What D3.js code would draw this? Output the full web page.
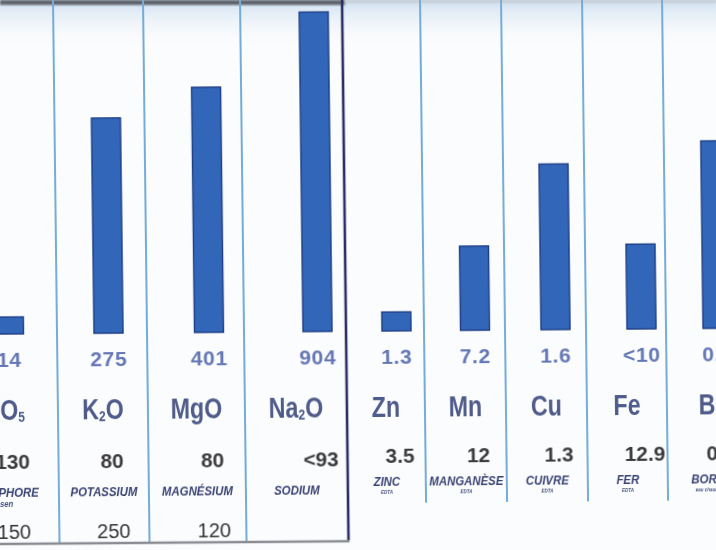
<!DOCTYPE html>
<html>
<head>
<meta charset="utf-8">
<script src="https://cdn.jsdelivr.net/npm/d3@7"></script>
<style>
  html, body { margin: 0; padding: 0; background: #fbfcfd; }
  svg { display: block; }
  text { font-family: "Liberation Sans", Arial, "Helvetica", sans-serif; }
</style>
</head>
<body>
<svg id="chart" width="716" height="550"></svg>
<script>
// ---- data ----
const formulas    = ["P2O5", "K2O", "MgO", "Na2O", "Zn", "Mn", "Cu", "Fe", "B"];
const measured    = ["14", "275", "401", "904", "1.3", "7.2", "1.6", "<10", "0.7"];
const barLevels   = [5.2, 66, 75.2, 98, 5.8, 25.8, 50.8, 26, 57.5];
const norms       = ["130", "80", "80", "<93", "3.5", "12", "1.3", "12.9", "0.5"];
const names       = ["PHOSPHORE", "POTASSIUM", "MAGNÉSIUM", "SODIUM", "ZINC", "MANGANÈSE", "CUIVRE", "FER", "BORE"];
const methods     = ["Olsen", "", "", "", "EDTA", "EDTA", "EDTA", "EDTA", "eau chaude"];
const upperNorms  = ["150", "250", "120", "", "", "", "", "", ""];
const groups      = ["macro", "macro", "macro", "macro", "micro", "micro", "micro", "micro", "micro"];

// ---- layout ----
const W = 716, H = 550;
const svg = d3.select("#chart");
const defs = svg.append("defs");
const grad = defs.append("linearGradient").attr("id", "topfade").attr("x1", 0).attr("y1", 0).attr("x2", 0).attr("y2", 1);
grad.append("stop").attr("offset", "0%").attr("stop-color", "#cfe0f0");
grad.append("stop").attr("offset", "100%").attr("stop-color", "#fbfcfd").attr("stop-opacity", 0);
const blur = defs.append("filter").attr("id", "soft").attr("x", "-10%").attr("y", "-10%").attr("width", "120%").attr("height", "120%");
blur.append("feGaussianBlur").attr("stdDeviation", 0.5);
const blur2 = defs.append("filter").attr("id", "soft2").attr("x", "-10%").attr("y", "-50%").attr("width", "120%").attr("height", "200%");
blur2.append("feGaussianBlur").attr("stdDeviation", 1.2);

svg.append("rect").attr("width", W).attr("height", H).attr("fill", "#fbfcfd");
svg.append("rect").attr("x", 0).attr("y", 0).attr("width", W).attr("height", 48).attr("fill", "url(#topfade)");
svg.append("rect").attr("x", 0).attr("y", 0).attr("width", 345).attr("height", 5).attr("fill", "#5f636c").attr("filter", "url(#soft2)");
svg.append("rect").attr("x", 345).attr("y", 0).attr("width", W - 345).attr("height", 3).attr("fill", "#c6ccd4").attr("filter", "url(#soft2)");

// slight photographic perspective
const g = svg.append("g").attr("transform", "matrix(1,-0.008,0.012,1,0,0)").attr("filter", "url(#soft)");

const n = formulas.length;
// piecewise x scale: integer = column divider, i + 0.65 = bar centre
const xDomain = [], xRange = [];
const dividersPx = [-60, 53, 143, 240, 342, 420, 501, 582, 662, 742];
const centresPx  = [5, 104.5, 205, 313.5, 392.5, 471, 551.5, 637.5, 713.5];
for (let i = 0; i <= n; i++) {
  xDomain.push(i); xRange.push(dividersPx[i]);
  if (i < n) { xDomain.push(i + 0.65); xRange.push(centresPx[i]); }
}
const x = d3.scaleLinear().domain(xDomain).range(xRange);
const y = d3.scaleLinear().domain([0, 100]).range([334, 8]);
const barW = 29;
const colMid = i => (x(i) + x(i + 1)) / 2;
const barMid = i => x(i + 0.65);

// column dividers
const idx = d3.range(1, n);
g.selectAll("line.div").data(idx).join("line")
  .attr("class", "div")
  .attr("x1", d => x(d)).attr("x2", d => x(d))
  .attr("y1", -10)
  .attr("y2", d => groups[d - 1] === "macro" ? 543 : 506)
  .attr("stroke", d => d === 4 ? "#2b2f66" : "#74acd9")
  .attr("stroke-width", d => d === 4 ? 2.6 : 2);

// bottom rule of the macro block
g.append("line").attr("x1", -10).attr("x2", x(4) + 1).attr("y1", 544).attr("y2", 544)
  .attr("stroke", "#8a8c92").attr("stroke-width", 2.6);

// bars
g.selectAll("rect.bar").data(barLevels).join("rect")
  .attr("class", "bar")
  .attr("x", (d, i) => barMid(i) - barW / 2)
  .attr("y", d => y(d))
  .attr("width", barW)
  .attr("height", d => y(0) - y(d))
  .attr("fill", "#3366b9")
  .attr("stroke", "#1d3d84").attr("stroke-width", 1.4);

// condensed text helper
function textRow(cls, data, o) {
  const grp = g.selectAll("g." + cls).data(data).join("g")
    .attr("class", cls)
    .attr("transform", (d, i) => `translate(${o.x(i)},${o.y(i)}) scale(${o.sx},1)`);
  return grp.append("text")
    .attr("text-anchor", "middle")
    .attr("font-size", typeof o.size === "function" ? (d, i) => o.size(i) : o.size)
    .attr("font-weight", o.weight || "normal")
    .attr("font-style", o.style || "normal")
    .attr("letter-spacing", o.ls || 0)
    .attr("fill", o.fill);
}

// measured values
textRow("val", measured, { x: i => barMid(i), y: () => 367, sx: 1.0, size: 21, weight: "bold", fill: "#6577b4", ls: 0.6 })
  .text(d => d);

// element formulas with subscripts
textRow("formula", formulas, { x: i => colMid(i), y: () => 420, sx: 0.8, size: 29, weight: "bold", fill: "#4f5b8a" })
  .each(function(d) {
    const t = d3.select(this);
    let first = true, sub = false;
    d.match(/[A-Za-z]+|\d+/g).forEach(part => {
      if (/^\d+$/.test(part)) {
        t.append("tspan").attr("font-size", 15).attr("dy", 2).text(part);
        sub = true;
      } else {
        const ts = t.append("tspan").text(part);
        if (!first && sub) ts.attr("dy", -2);
        sub = false;
      }
      first = false;
    });
  });

// norm values
textRow("norm", norms, { x: i => barMid(i) + 2, y: i => groups[i] === "macro" ? 469 : 466, sx: 1.04, size: 20, weight: "bold", fill: "#3a3a3e" })
  .text(d => d);

// element names
textRow("name", names, { x: i => colMid(i), y: i => groups[i] === "macro" ? 497 : 489, sx: 0.95, size: 12, weight: "bold", style: "italic", fill: "#3a4272" })
  .text(d => d);

// extraction methods (tiny)
textRow("meth", methods, { x: i => colMid(i), y: i => groups[i] === "macro" ? 507 : 497, sx: 0.9, size: i => groups[i] === "macro" ? 8.5 : 5, weight: "bold", style: "italic", fill: "#4a5380" })
  .text(d => d);

// upper norms (macro block only)
textRow("upper", upperNorms, { x: i => barMid(i) + 3, y: () => 539, sx: 1.0, size: 20, weight: "normal", fill: "#343438" })
  .text(d => d);

// faint footer smear
svg.append("line").attr("x1", 362).attr("x2", W).attr("y1", 546).attr("y2", 546)
  .attr("stroke", "#cfd2d6").attr("stroke-width", 3).attr("stroke-dasharray", "6 3 2 3")
  .attr("filter", "url(#soft2)");
</script>
</body>
</html>
